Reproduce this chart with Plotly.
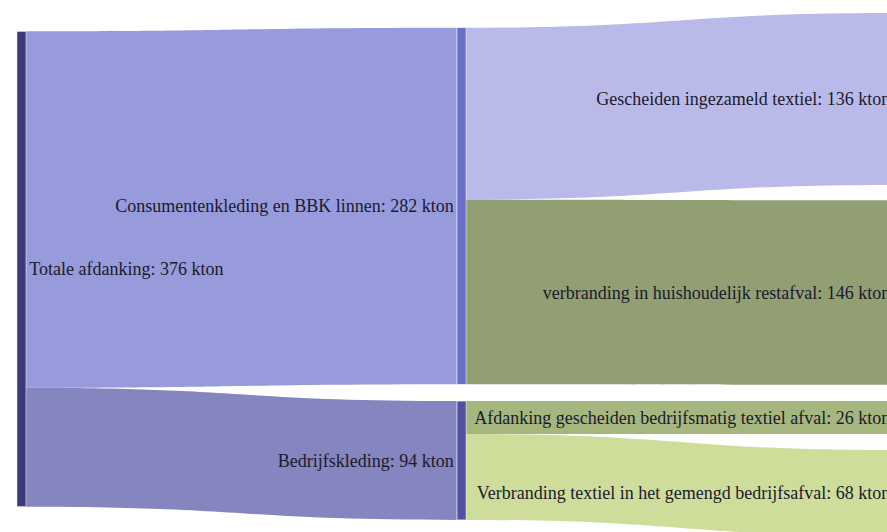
import plotly.graph_objects as go

# Node labels (kton values are part of the label text)
stage1_names = ["Totale afdanking", "Consumentenkleding en BBK linnen", "Bedrijfskleding"]
stage1_totals = [376, 282, 94]
stage2_names = [
    "Gescheiden ingezameld textiel",
    "verbranding in huishoudelijk restafval",
    "Afdanking gescheiden bedrijfsmatig textiel afval",
    "Verbranding textiel in het gemengd bedrijfsafval",
]
stage2_totals = [136, 146, 26, 68]

node_colors_1 = ["#3b3b7a", "#6b6fcc", "#5252a5"]
node_colors_2 = ["#6b6fcc", "#5252a5", "#9a9ae0", "#6f7d4f", "#8a9a5e", "#b5c97a"]

# Node positions (normalised, centre of each node); last column sits just
# past the right edge, as in the cropped original
col_x = [0.0052, 0.5169, 1.0244]
node_y_1 = [0.4962, 0.3755, 0.8630]
node_y_2 = [0.3755, 0.8630, 0.1705, 0.5412, 0.7807, 0.9253]

# Flows: totale -> consumenten / bedrijf
link1_source = [0, 0]
link1_target = [1, 2]
link1_value = [282, 94]
link1_colors = ["#979bdb", "#8585bf"]

# Flows: consumenten / bedrijf -> afvalstromen
link2_source = [0, 0, 1, 1]
link2_target = [2, 3, 4, 5]
link2_value = [136, 146, 26, 68]
link2_colors = ["#babaea", "#919f72", "#a6b67f", "#cfdd9b"]

labels_1 = [f"{n}: {v} kton" for n, v in zip(stage1_names, stage1_totals)]
labels_2 = ["", ""] + [f"{n}: {v} kton" for n, v in zip(stage2_names, stage2_totals)]

font = dict(family="Liberation Serif", size=18, color="#1a1a2e", shadow="none")
PAD = 15.57

fig = go.Figure()

# first stage as its own trace so the middle labels sit left of their nodes
fig.add_trace(go.Sankey(
    arrangement="fixed",
    node=dict(
        label=labels_1,
        color=node_colors_1,
        x=[col_x[0], col_x[1], col_x[1]],
        y=node_y_1,
        pad=PAD * 3,  # same value scale as the 4-node column
        thickness=9,
        line=dict(color="white", width=0.5),
    ),
    link=dict(source=link1_source, target=link1_target,
              value=link1_value, color=link1_colors),
    textfont=font,
))

fig.add_trace(go.Sankey(
    arrangement="fixed",
    node=dict(
        label=labels_2,
        color=node_colors_2,
        x=[col_x[1], col_x[1]] + [col_x[2]] * 4,
        y=node_y_2,
        pad=PAD,
        thickness=9,
        line=dict(color="white", width=0.5),
    ),
    link=dict(source=link2_source, target=link2_target,
              value=link2_value, color=link2_colors),
    textfont=font,
))

fig.update_layout(
    width=887,
    height=532,
    margin=dict(l=17, r=10, t=10, b=0),
    paper_bgcolor="white",
    showlegend=False,
)

fig.write_html(
    "out.html",
    config={"displayModeBar": False},
    post_script="document.body.style.margin='0';document.body.style.overflow='hidden';",
)
